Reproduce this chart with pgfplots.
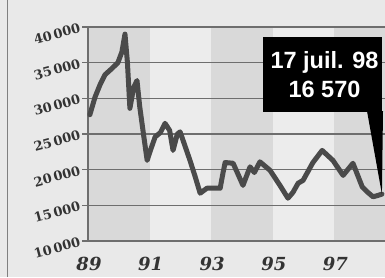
\documentclass[border=0pt]{standalone}
\usepackage{pgfplots}
\pgfplotsset{compat=1.18}
\usepackage{fontspec}
\setmainfont{DejaVu Serif}
\newfontfamily\boxfont{Liberation Sans}
\definecolor{paper}{HTML}{E9E9E9}
\definecolor{bandA}{HTML}{D9D9D9}
\definecolor{bandB}{HTML}{ECECEC}
\definecolor{gridc}{HTML}{6E6E6E}
\definecolor{linec}{HTML}{4A4A4A}
\begin{document}
\begin{tikzpicture}
\useasboundingbox (0,0) rectangle (385pt,277pt);
\fill[paper] (0,0) rectangle (385pt,277pt);
\draw[gray, line width=1pt] (7pt,0) -- (7pt,277pt);
% year bands (1 year = 30.8pt, 1989 at x=88pt)
\fill[bandB] (88pt,36pt) rectangle (385pt,250pt);
\fill[bandA] (88pt,36pt) rectangle (149.6pt,250pt);
\fill[bandA] (211.2pt,36pt) rectangle (272.8pt,250pt);
\fill[bandA] (334.4pt,36pt) rectangle (385pt,250pt);
\begin{axis}[
  at={(88pt,36pt)}, anchor=south west,
  scale only axis, width=297pt, height=214pt,
  xmin=1989, xmax=1998.64, ymin=10000, ymax=40000,
  axis line style={draw=none},
  scaled y ticks=false,
  ytick={10000,15000,...,40000},
  yticklabels={10\,000,15\,000,20\,000,25\,000,30\,000,35\,000,40\,000},
  ymajorgrids, major grid style={line width=1.3pt, color=gridc},
  ytick pos=left, tick align=outside, major tick length=6pt,
  ytick style={line width=1.2pt, color=gridc},
  yticklabel style={font=\fontsize{13}{13}\selectfont\bfseries, text=black!80, anchor=east, rotate=15, xshift=-1pt, inner sep=1pt},
  xtick={1989,1991,1993,1995,1997},
  xticklabels={89,91,93,95,97},
  xtick style={draw=none},
  xticklabel style={font=\fontsize{18}{18}\selectfont\bfseries\itshape, text=black!80, xshift=1pt, yshift=-7pt},
  clip=false,
]
\draw[gridc, line width=1.4pt] (axis cs:1989,10000) -- (axis cs:1989,40000);
\addplot[linec, line width=5pt, line join=round, line cap=round, no markers] coordinates {
(1989.06,27700) (1989.23,30200) (1989.40,32000) (1989.55,33300) (1989.78,34200)
(1989.97,35000) (1990.10,36500) (1990.20,39000) (1990.28,35000) (1990.36,28600)
(1990.48,31500) (1990.59,32500) (1990.68,28800) (1990.80,25000) (1990.92,21300)
(1991.05,23000) (1991.18,24600) (1991.35,25200) (1991.50,26500) (1991.65,25500)
(1991.76,22700) (1991.90,25000) (1991.99,25300) (1992.15,23300) (1992.31,21300)
(1992.48,19000) (1992.64,16700) (1992.86,17400) (1993.29,17400) (1993.38,19500)
(1993.45,21000) (1993.71,20900) (1994.03,17800) (1994.26,20400) (1994.40,19600)
(1994.58,21100) (1994.91,19900) (1995.23,17800) (1995.49,16000) (1995.65,16800)
(1995.82,18100) (1995.98,18500) (1996.30,21000) (1996.60,22700) (1996.95,21300)
(1997.28,19200) (1997.60,20900) (1997.90,17600) (1998.06,16900) (1998.25,16200)
(1998.42,16400) (1998.54,16570)
};
\coordinate (tip) at (axis cs:1998.54,16570);
\end{axis}
\fill[black] (367pt,166pt) -- (383pt,166pt) -- (tip) -- cycle;
\node[fill=black, minimum width=119pt, minimum height=75pt, inner sep=0pt,
  text=white, align=center, font=\boxfont\bfseries\fontsize{23.5}{29}\selectfont]
  at (322.5pt,202.5pt) {\hspace*{4pt}17 juil. 98\\ \hspace*{4pt}16 570};
\end{tikzpicture}
\end{document}
